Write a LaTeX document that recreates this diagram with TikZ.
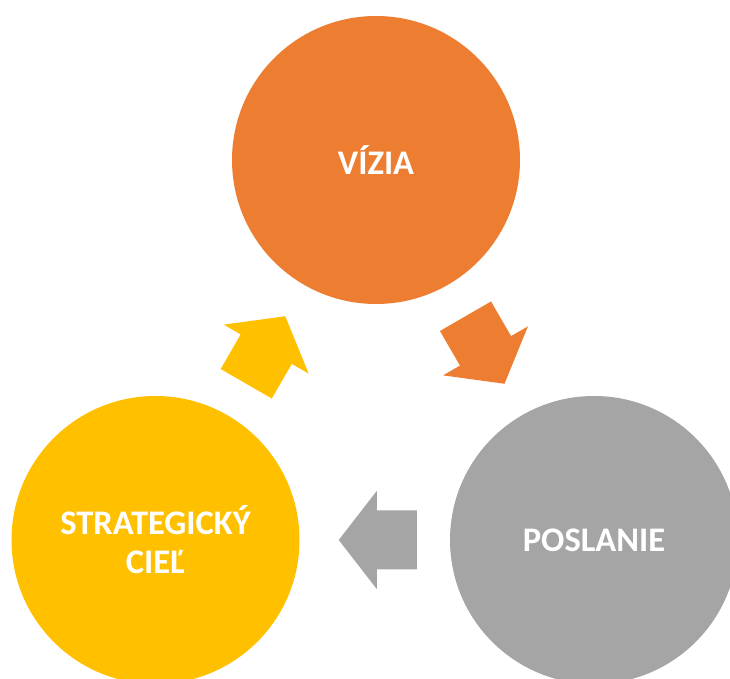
\documentclass[tikz,border=0pt]{standalone}
\usepackage{fontspec}
\setmainfont{Carlito}
\usetikzlibrary{calc}
\definecolor{corange}{HTML}{ED7D31}
\definecolor{cgray}{HTML}{A5A5A5}
\definecolor{cyellow}{HTML}{FFC000}
\tikzset{
  bubble/.style={circle, minimum size=288pt, inner sep=0pt, text=white,
    font=\fontsize{34.5}{39}\selectfont\bfseries, align=center},
  blockarrow/.pic={\path[pic actions] (39,0) -- (1,49) -- (1,29.5) -- (-39,29.5)
    -- (-39,-29.5) -- (1,-29.5) -- (1,-49) -- cycle;}
}
\begin{document}
\begin{tikzpicture}[x=1pt,y=1pt]
  \clip (0,0) rectangle (730,679);
  \fill[white] (0,0) rectangle (730,679);
  \node[bubble, fill=corange] (vizia) at (376,519) {VÍZIA};
  \node[bubble, fill=cgray] (poslanie) at (594,139) {POSLANIE};
  \node[bubble, fill=cyellow] (ciel) at (155.5,139) {STRATEGICKÝ\\CIEĽ};
  \pic[fill=corange, rotate=-60] (a1) at ($(vizia)!0.5!(poslanie)$) {blockarrow};
  \pic[fill=cgray, rotate=180] (a2) at ($(poslanie)!0.5!(ciel)+(3,0)$) {blockarrow};
  \pic[fill=cyellow, rotate=60] (a3) at ($(ciel)!0.5!(vizia)$) {blockarrow};
\end{tikzpicture}
\end{document}
